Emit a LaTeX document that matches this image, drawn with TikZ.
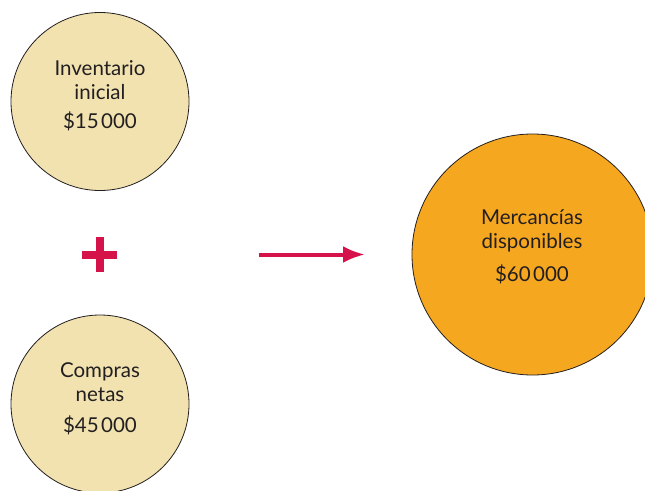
\documentclass[tikz,border=0pt]{standalone}
\usepackage{fontspec}
\setmainfont{Lato}
\usetikzlibrary{arrows.meta}
\definecolor{beige}{RGB}{241,226,176}
\definecolor{orangec}{RGB}{246,167,32}
\definecolor{crimson}{RGB}{214,18,74}
\definecolor{ink}{RGB}{35,31,32}
\tikzset{
  bubble/.style={circle, draw=ink, line width=0.8pt, inner sep=0pt},
  lbl/.style={anchor=base, text=ink, font=\fontsize{20.5}{22}\selectfont, inner sep=0pt},
  plusbar/.style={fill=crimson, draw=none},
}
\begin{document}
\begin{tikzpicture}[x=1pt,y=-1pt]
\useasboundingbox (0,0) rectangle (645,490);
\fill[white] (0,0) rectangle (645,490);
% circles
\node[bubble, fill=beige, minimum size=178pt] (inv) at (100,101.5) {};
\node[bubble, fill=beige, minimum size=178pt] (comp) at (100,404) {};
\node[bubble, fill=orangec, minimum size=241pt] (merc) at (532.5,254.5) {};
% texts
\node[lbl] (inv1) at (100,75) {Inventario};
\node[lbl] (inv2) at (100,99) {inicial};
\node[lbl] (inv3) at (100,128) {\$15\hspace{0.12em}000};
\node[lbl] (comp1) at (100,377) {Compras};
\node[lbl] (comp2) at (100,401) {netas};
\node[lbl] (comp3) at (100,432) {\$45\hspace{0.12em}000};
\node[lbl] (merc1) at (532,224) {Mercancías};
\node[lbl] (merc2) at (532,248) {disponibles};
\node[lbl] (merc3) at (532,281) {\$60\hspace{0.12em}000};
% plus sign
\fill[plusbar] (82,250.5) rectangle (117,258.5);
\fill[plusbar] (95.5,237) rectangle (103.5,272);
% arrow
\coordinate (as) at (259,254.5);
\coordinate (ae) at (365,254.5);
\draw[crimson, line width=4pt, -{Latex[length=22pt,width=17pt]}] (as) -- (ae);
\end{tikzpicture}
\end{document}
